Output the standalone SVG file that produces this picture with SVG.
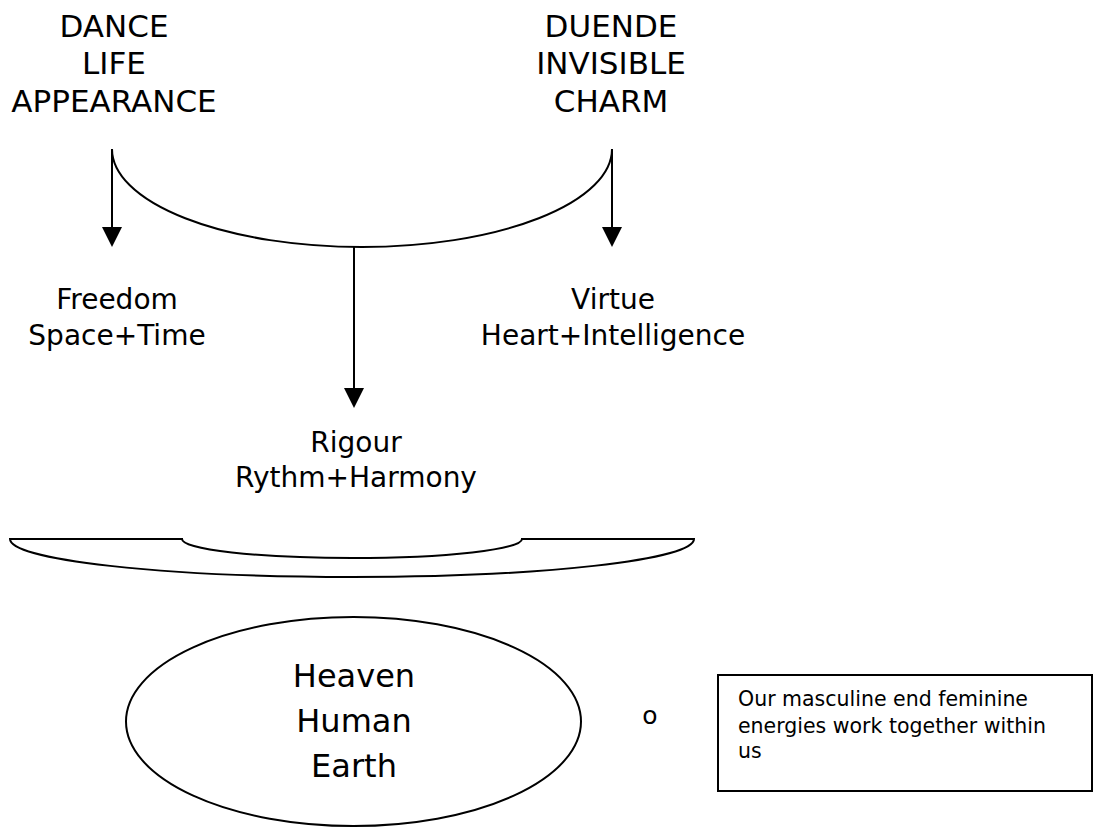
<svg xmlns="http://www.w3.org/2000/svg" width="1095" height="828" viewBox="0 0 1095 828">
<style>
text{font-family:"DejaVu Sans","Noto Sans",sans-serif;fill:#000;text-anchor:middle}
.top{font-size:31px}
.mid{font-size:28px}
.big{font-size:32px}
.small{font-size:25px}
.note{font-size:20.5px;text-anchor:start}
.ln{fill:none;stroke:#000;stroke-width:2}
.head{fill:#000;stroke:none}
</style>
<defs>
<polygon id="ah" class="head" points="-10,0 10,0 0,20"/>
</defs>
<rect width="1095" height="828" fill="#fff"/>
<g id="dance">
<text class="top" x="114" y="37">DANCE</text>
<text class="top" x="114" y="74">LIFE</text>
<text class="top" x="114" y="112">APPEARANCE</text>
</g>
<g id="duende">
<text class="top" x="611" y="37">DUENDE</text>
<text class="top" x="611" y="74">INVISIBLE</text>
<text class="top" x="611" y="112">CHARM</text>
</g>
<g id="connectors">
<path class="ln" d="M112,149 A250,98 0 0 0 612,149"/>
<line class="ln" x1="112" y1="149" x2="112" y2="228"/>
<use href="#ah" x="112" y="227"/>
<line class="ln" x1="612" y1="149" x2="612" y2="228"/>
<use href="#ah" x="612" y="227"/>
<line class="ln" x1="354" y1="246" x2="354" y2="389"/>
<use href="#ah" x="354" y="388"/>
</g>
<g id="freedom">
<text class="mid" x="117" y="309">Freedom</text>
<text class="mid" x="117" y="345">Space+Time</text>
</g>
<g id="virtue">
<text class="mid" x="613" y="309">Virtue</text>
<text class="mid" x="613" y="345">Heart+Intelligence</text>
</g>
<g id="rigour">
<text class="mid" x="356" y="452">Rigour</text>
<text class="mid" x="356" y="487">Rythm+Harmony</text>
</g>
<g id="tray">
<path class="ln" d="M10,539 L182,539 A170,19 0 0 0 522,539 L694,539 A342,38 0 0 1 10,539 Z"/>
</g>
<g id="heaven">
<ellipse class="ln" cx="353.5" cy="721.5" rx="227.5" ry="104.5"/>
<text class="big" x="354" y="687">Heaven</text>
<text class="big" x="354" y="732">Human</text>
<text class="big" x="354" y="777">Earth</text>
</g>
<g id="o">
<text class="small" x="650" y="724">o</text>
</g>
<g id="note">
<rect class="ln" x="718" y="675" width="374" height="116"/>
<text class="note" x="738" y="706">Our masculine end feminine</text>
<text class="note" x="738" y="733">energies work together within</text>
<text class="note" x="738" y="758">us</text>
</g>
</svg>
